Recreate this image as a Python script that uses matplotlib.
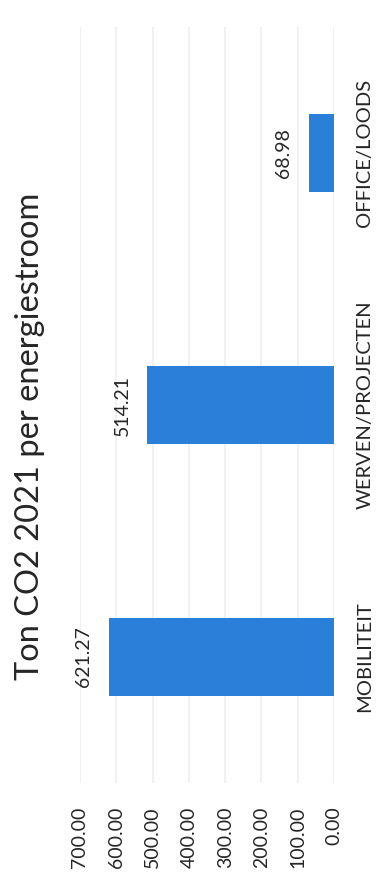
import matplotlib
matplotlib.use("Agg")
import matplotlib.pyplot as plt

categories = ["MOBILITEIT", "WERVEN/PROJECTEN", "OFFICE/LOODS"]
values = [621.27, 514.21, 68.98]
ticks = [0, 100, 200, 300, 400, 500, 600, 700]
tick_labels = ["0.00", "100.00", "200.00", "300.00", "400.00", "500.00", "600.00", "700.00"]
title = "Ton CO2 2021 per energiestroom"

plt.rcParams['font.family'] = ['Lato', 'DejaVu Sans']
text_color = "#262626"
bar_color = "#2a7fd8"

W, H = 388, 891
fig = plt.figure(figsize=(W / 100, H / 100), dpi=100)
fig.patch.set_facecolor("white")

left, right = 80 / W, 334 / W
bottom, top = 1 - 783 / H, 1 - 27 / H
ax = fig.add_axes([left, bottom, right - left, top - bottom])

ypos = list(range(len(categories)))
ax.barh(ypos, values, height=0.31, color=bar_color, zorder=3)
ax.set_xlim(700, 0)
ax.set_ylim(-0.5, len(categories) - 0.5)

ax.set_xticks(ticks)
ax.set_xticklabels(tick_labels, rotation=90, fontsize=14, color=text_color)
ax.tick_params(axis="x", length=0, pad=17)

ax.yaxis.tick_right()
ax.set_yticks(ypos)
ax.set_yticklabels(categories, rotation=90, va="center", fontsize=14.5, color=text_color)
ax.tick_params(axis="y", length=0, pad=16)

ax.grid(axis="x", color="#efefef", linewidth=1.2, zorder=0)
for s in ax.spines.values():
    s.set_visible(False)

for i, v in zip(ypos, values):
    ax.annotate(f"{v:.2f}", xy=(v, i), xytext=(-12, 0), textcoords="offset points",
                rotation=90, ha="right", va="center", fontsize=14, color=text_color)

fig.text(30 / W, 1 - 436 / H, title, rotation=90, ha="center", va="center",
         fontsize=23.5, color=text_color)

fig.savefig("out.png", dpi=100, facecolor="white")
